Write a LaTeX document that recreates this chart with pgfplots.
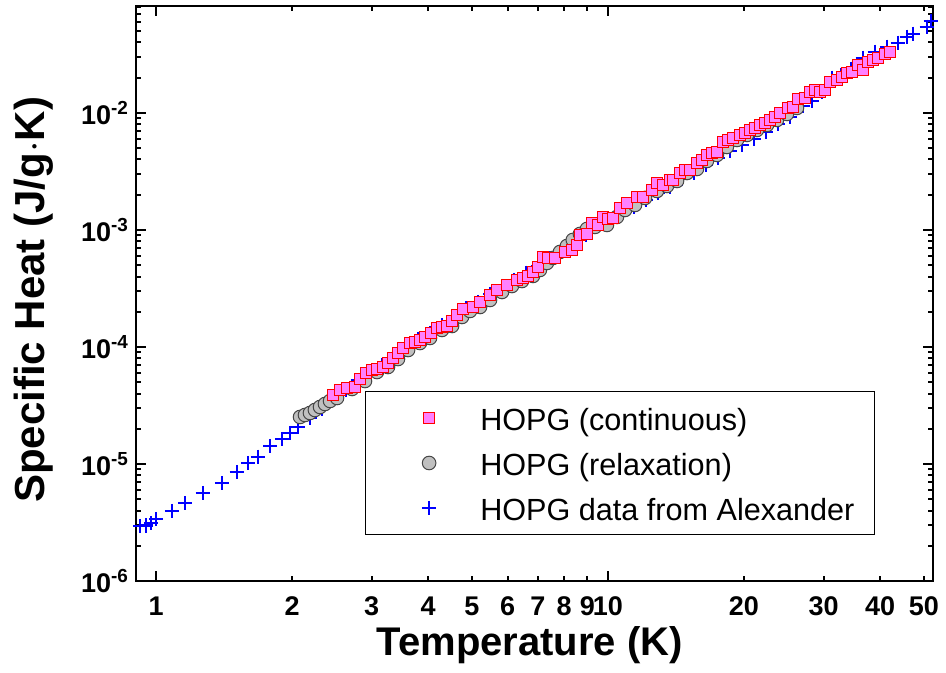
\documentclass[border=0pt]{standalone}
\usepackage{fontspec}
\setmainfont{Liberation Sans}
\usepackage{pgfplots}
\usepackage{pgfplotstable}
\pgfplotsset{compat=1.18}
\definecolor{sqfill}{RGB}{255,128,255}
\definecolor{cgray}{RGB}{192,192,192}
\definecolor{cedge}{RGB}{70,70,70}

% HOPG data from Alexander
\pgfplotstableread{
T C
0.922 2.95e-6
0.950 2.99e-6
0.975 3.13e-6
1.0 3.39e-6
1.085 3.96e-6
1.159 4.64e-6
1.27 5.65e-6
1.40 6.88e-6
1.51 8.53e-6
1.60 1.02e-5
1.68 1.15e-5
1.79 1.42e-5
1.90 1.63e-5
1.98 1.84e-5
2.06 2.07e-5
2.191 2.472e-5
2.329 2.953e-5
2.476 3.665e-5
2.633 4.291e-5
2.798 5.222e-5
2.975 6.112e-5
3.162 7.018e-5
3.361 8.377e-5
3.573 1.0e-4
3.798 1.171e-4
4.039 1.317e-4
4.293 1.542e-4
4.564 1.805e-4
4.852 2.154e-4
5.158 2.424e-4
5.483 2.838e-4
5.829 3.321e-4
6.194 3.737e-4
6.586 4.291e-4
7.000 4.924e-4
7.441 5.763e-4
7.910 6.614e-4
8.411 7.441e-4
8.940 9.065e-4
9.504 1.082e-3
10.10 1.217e-3
10.74 1.425e-3
11.42 1.573e-3
12.14 1.805e-3
12.90 2.071e-3
13.72 2.330e-3
14.58 2.728e-3
15.50 3.070e-3
16.48 3.594e-3
17.51 4.124e-3
18.62 4.734e-3
19.80 5.326e-3
21.04 5.995e-3
22.37 6.88e-3
23.78 8.054e-3
25.28 9.243e-3
27.01 1.148e-2
28.27 1.267e-2
29.75 1.512e-2
31.30 1.991e-2
32.77 2.113e-2
34.48 2.377e-2
36.67 2.953e-2
38.96 3.321e-2
41.43 3.665e-2
43.82 3.965e-2
45.87 4.462e-2
47.30 4.734e-2
50.80 5.433e-2
51.84 6.112e-2
}\alexander

% HOPG relaxation
\pgfplotstableread{
T C
2.083 2.522e-5
2.136 2.623e-5
2.191 2.728e-5
2.247 2.893e-5
2.306 3.070e-5
2.365 3.257e-5
2.427 3.456e-5
2.515 3.665e-5
2.715 4.375e-5
2.900 5.118e-5
3.083 6.109e-5
3.261 6.742e-5
3.431 7.889e-5
3.612 9.418e-5
3.838 1.081e-4
4.039 1.194e-4
4.293 1.397e-4
4.519 1.511e-4
4.754 1.804e-4
4.952 2.030e-4
5.212 2.196e-4
5.484 2.521e-4
5.829 2.950e-4
6.132 3.319e-4
6.454 3.662e-4
6.826 4.042e-4
7.072 4.551e-4
7.329 5.223e-4
7.556 5.763e-4
7.833 6.486e-4
8.115 7.298e-4
8.360 8.213e-4
8.671 9.244e-4
8.985 1.020e-3
9.360 1.061e-3
9.950 1.103e-3
10.47 1.291e-3
10.91 1.482e-3
11.48 1.635e-3
12.08 1.877e-3
12.84 2.153e-3
13.51 2.376e-3
14.22 2.622e-3
14.96 3.067e-3
15.74 3.319e-3
16.56 3.887e-3
17.43 4.373e-3
18.33 5.118e-3
19.30 5.875e-3
20.31 6.482e-3
21.37 7.152e-3
22.49 7.893e-3
23.66 8.708e-3
24.90 9.80e-3
26.20 1.103e-2
}\relaxation

% HOPG continuous
\pgfplotstableread{
T C
2.464 3.889e-5
2.553 4.291e-5
2.646 4.462e-5
2.756 4.551e-5
2.827 5.327e-5
2.915 5.995e-5
3.005 6.360e-5
3.083 6.486e-5
3.178 6.746e-5
3.260 7.298e-5
3.345 8.054e-5
3.431 8.887e-5
3.519 9.805e-5
3.647 1.082e-4
3.741 1.103e-4
3.838 1.148e-4
3.937 1.217e-4
4.059 1.317e-4
4.185 1.453e-4
4.293 1.482e-4
4.404 1.512e-4
4.517 1.668e-4
4.634 1.877e-4
4.778 2.112e-4
5.027 2.197e-4
5.210 2.424e-4
5.482 2.783e-4
5.681 3.070e-4
5.978 3.388e-4
6.290 3.738e-4
6.486 3.889e-4
6.653 4.045e-4
6.825 4.376e-4
7.001 4.828e-4
7.181 5.878e-4
7.367 5.763e-4
7.634 5.763e-4
8.033 6.486e-4
8.324 6.746e-4
8.539 7.443e-4
8.671 9.064e-4
8.985 9.244e-4
9.217 1.148e-3
9.503 1.103e-3
9.749 1.292e-3
10.00 1.242e-3
10.26 1.266e-3
10.63 1.542e-3
11.02 1.701e-3
11.59 1.915e-3
11.95 1.915e-3
12.51 2.197e-3
12.84 2.521e-3
13.23 2.424e-3
13.71 2.675e-3
13.93 2.675e-3
14.43 3.070e-3
14.80 3.257e-3
15.19 3.257e-3
15.74 3.738e-3
16.14 3.965e-3
16.56 4.376e-3
16.99 4.551e-3
17.42 4.642e-3
17.96 5.652e-3
18.43 5.878e-3
18.90 6.114e-3
19.59 6.486e-3
20.10 6.746e-3
20.61 7.156e-3
21.14 7.443e-3
21.69 7.897e-3
22.25 8.213e-3
22.82 8.713e-3
23.41 9.244e-3
24.02 1.0e-2
25.01 1.103e-2
25.66 1.125e-2
26.32 1.317e-2
27.28 1.343e-2
27.98 1.512e-2
28.70 1.573e-2
29.44 1.512e-2
30.20 1.573e-2
30.98 1.841e-2
32.10 1.915e-2
32.93 2.031e-2
33.78 2.197e-2
34.65 2.241e-2
35.73 2.572e-2
36.65 2.331e-2
37.59 2.728e-2
38.56 2.837e-2
39.56 2.951e-2
41.01 3.194e-2
42.07 3.322e-2
}\contin

\begin{document}
\begin{tikzpicture}
\begin{axis}[scale only axis, width=398.5pt, height=287.5pt,
at={(0,0)}, anchor=south west,
xmode=log, ymode=log,
xmin=0.903, xmax=52.4, ymin=1e-6, ymax=0.082,
axis line style={line width=1.2pt},
every tick/.style={black, line width=1pt},
major tick length=5pt, minor tick length=2.5pt,
tick align=inside, tick pos=both,
xtick={1,10}, xticklabels={1,10},
minor xtick={},
extra x ticks={2,3,4,5,6,7,8,9,20,30,40,50},
extra x tick labels={2,3,4,5,6,7,8,9,20,30,40,50},
extra x tick style={major tick length=2.5pt},
ytick={1e-6,1e-5,1e-4,1e-3,1e-2},
yticklabels={10\textsuperscript{-6},10\textsuperscript{-5},10\textsuperscript{-4},10\textsuperscript{-3},10\textsuperscript{-2}},
minor ytick={2e-6,3e-6,4e-6,5e-6,6e-6,7e-6,8e-6,9e-6,
2e-5,3e-5,4e-5,5e-5,6e-5,7e-5,8e-5,9e-5,
2e-4,3e-4,4e-4,5e-4,6e-4,7e-4,8e-4,9e-4,
2e-3,3e-3,4e-3,5e-3,6e-3,7e-3,8e-3,9e-3,
2e-2,3e-2,4e-2,5e-2,6e-2,7e-2,8e-2},
tick label style={font=\fontsize{13.5}{16}\selectfont\bfseries},
xticklabel style={yshift=-4.5pt},
xlabel={Temperature (K)},
xlabel style={font=\fontsize{20}{24}\selectfont\bfseries, at={(rel axis cs:0.494,0)}, anchor=center, yshift=-32pt},
ylabel={Specific Heat (J/g$\cdot$K)},
ylabel style={font=\fontsize{21}{24}\selectfont\bfseries, at={([xshift=-51pt]rel axis cs:0,0.489)}, anchor=center},
reverse legend,
legend style={at={(rel axis cs:0.9272,0.0800)}, anchor=south east, draw=black, line width=0.5pt,
font=\fontsize{15.3}{18}\selectfont, inner xsep=8pt, inner ysep=4pt,
nodes={text height=13.5pt, text depth=1pt}, row sep=4pt},
legend cell align=left,
legend image code/.code={\path (-23pt,0pt) (23pt,0pt);
\draw[mark repeat=2,mark phase=2,#1] plot coordinates {(-4pt,0pt) (0pt,0pt) (4pt,0pt)};},
]
\addplot[only marks, mark=+, mark size=3.6pt, blue, line width=1.2pt] table[x=T,y=C] {\alexander};
\addlegendentry{HOPG data from Alexander}
\addplot[only marks, mark=*, mark size=3.4pt, mark options={fill=cgray, draw=cedge, line width=0.5pt}] table[x=T,y=C] {\relaxation};
\addlegendentry{HOPG (relaxation)}
\addplot[only marks, mark=square*, mark size=2.7pt, mark options={fill=sqfill, draw=red, line width=0.5pt}] table[x=T,y=C] {\contin};
\addlegendentry{HOPG (continuous)}
\end{axis}
\pgfresetboundingbox
\path (-68pt,-46pt) rectangle (405pt,290.5pt);
\end{tikzpicture}
\end{document}
